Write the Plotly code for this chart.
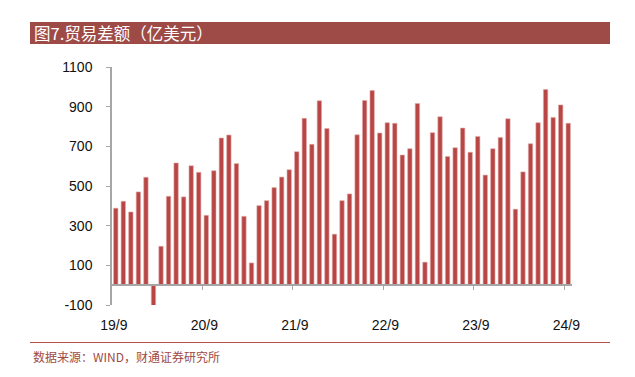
import plotly.graph_objects as go

# Monthly trade balance, 2019/9 .. 2024/9 (100 million USD)
values = [388, 423, 369, 470, 544, -105, 196, 448, 616, 445, 602, 569,
          352, 577, 742, 757, 613, 347, 112, 401, 426, 492, 545, 582,
          673, 841, 710, 930, 790, 257, 426, 460, 758, 931, 982, 767,
          819, 816, 656, 688, 916, 116, 769, 849, 649, 693, 792, 670,
          750, 555, 688, 745, 839, 383, 571, 713, 819, 987, 846, 909, 816]
tick_labels = ["19/9", "20/9", "21/9", "22/9", "23/9", "24/9"]
y_ticks = [-100, 100, 300, 500, 700, 900, 1100]
y_tick_text = ["-100", "100", "300", "500", "700", "900", "1100"]

title_text = "图7.贸易差额（亿美元）"
source_text = "数据来源：WIND，财通证券研究所"

OFF = 8  # page body margin
W, H = 635 - OFF, 377 - OFF
L, R, T, B = 112 - OFF, 63, 67 - OFF, 72
pw, ph = W - L - R, H - T - B


def px_x(x):
    return (x - OFF - L) / pw


def px_y(y):
    return (H - B - (y - OFF)) / ph


idx = list(range(len(values)))
red = "#B84644"
dark_red = "#9E4A47"
axis_gray = "#A6A6A6"

fig = go.Figure()
fig.add_trace(go.Bar(
    x=idx, y=values, width=0.58,
    marker=dict(color=red, line=dict(color="#E0A9A8", width=0.6)),
    hoverinfo="x+y", showlegend=False,
))

label_pos = [12 * k - 0.25 for k in range(len(tick_labels))]
sep_pos = [12 * k - 0.5 for k in range(1, len(tick_labels))]

fig.update_layout(
    width=W, height=H,
    margin=dict(l=L, r=R, t=T, b=B, autoexpand=False),
    paper_bgcolor="white", plot_bgcolor="white",
    font=dict(family="Liberation Sans, Arial, sans-serif", size=14, color="#111"),
    xaxis=dict(
        range=[-0.5, len(values) - 0.5],
        tickmode="array", tickvals=label_pos, ticktext=tick_labels,
        showline=False, showgrid=False, zeroline=False, ticks="",
        ticklabelstandoff=10,
        tickfont=dict(size=14, color="#111"),
    ),
    xaxis2=dict(
        overlaying="x", anchor="free", position=(0 - y_ticks[0]) / (y_ticks[-1] - y_ticks[0]),
        range=[-0.5, len(values) - 0.5], side="bottom",
        tickmode="array", tickvals=sep_pos, showticklabels=False,
        ticks="outside", ticklen=4, tickcolor=axis_gray, tickwidth=1,
        showline=True, linecolor=axis_gray, linewidth=2,
        showgrid=False, zeroline=False,
    ),
    yaxis=dict(
        range=[y_ticks[0], y_ticks[-1]],
        tickmode="array", tickvals=y_ticks, ticktext=y_tick_text,
        ticks="outside", ticklen=4, tickcolor=axis_gray, tickwidth=1,
        showline=True, linecolor=axis_gray, linewidth=1.5,
        showgrid=False, zeroline=False,
        ticklabelstandoff=11,
        tickfont=dict(size=14, color="#111"),
    ),
    shapes=[
        dict(type="rect", xref="paper", yref="paper",
             x0=px_x(30), x1=px_x(610), y0=px_y(44), y1=px_y(22),
             fillcolor=dark_red, line=dict(width=0), layer="below"),
        dict(type="line", xref="paper", yref="paper",
             x0=px_x(30), x1=px_x(610), y0=px_y(342.5), y1=px_y(342.5),
             line=dict(color="#B5504E", width=1)),
    ],
    annotations=[
        dict(text=title_text, xref="paper", yref="paper",
             x=px_x(32), y=px_y(33), xanchor="left", yanchor="middle",
             showarrow=False,
             font=dict(family="Noto Sans CJK SC", size=16.5, color="white")),
        dict(text=source_text, xref="paper", yref="paper",
             x=px_x(31), y=px_y(356), xanchor="left", yanchor="middle",
             showarrow=False,
             font=dict(family="Noto Sans CJK SC", size=12, color=dark_red)),
    ],
)

# invisible helper trace so the zero-line axis (xaxis2) is rendered
fig.add_trace(go.Scatter(x=[0], y=[0], xaxis="x2", yaxis="y", mode="markers",
                         marker=dict(opacity=0), hoverinfo="skip", showlegend=False))

fig.write_html("out.html")
